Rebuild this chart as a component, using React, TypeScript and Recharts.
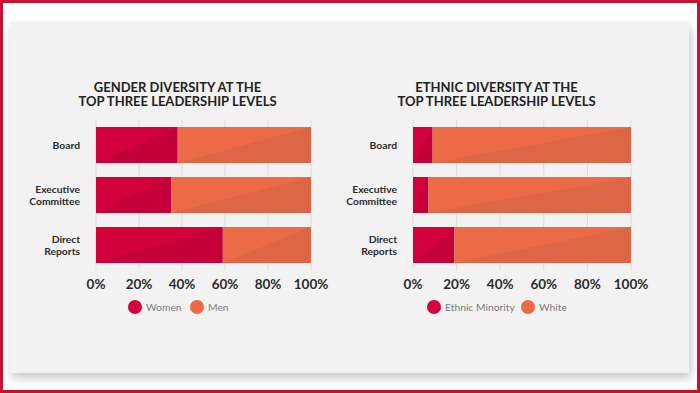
import React from 'react'
import { BarChart, Bar, XAxis, YAxis, CartesianGrid } from 'recharts'

const levels = ['Board', 'Executive Committee', 'Direct Reports']
const womenShare = [38, 35, 59]
const menShare = [62, 65, 41]
const minorityShare = [9, 7, 19]
const whiteShare = [91, 93, 81]
const percentTicks = [0, 20, 40, 60, 80, 100]

const genderData = levels.map((level, i) => ({ level, women: womenShare[i], men: menShare[i] }))
const ethnicData = levels.map((level, i) => ({ level, minority: minorityShare[i], white: whiteShare[i] }))

const CRIMSON = ['#d2003b', '#c3003a']
const ORANGE = ['#ec6b46', '#dc6646']

type Series = { key: string, name: string, colors: string[] }

const genderSeries: Series[] = [
  { key: 'women', name: 'Women', colors: CRIMSON },
  { key: 'men', name: 'Men', colors: ORANGE },
]
const ethnicSeries: Series[] = [
  { key: 'minority', name: 'Ethnic Minority', colors: CRIMSON },
  { key: 'white', name: 'White', colors: ORANGE },
]

const FONT = 'Lato, "Open Sans", sans-serif'

function LevelTick({ x, y, payload }: any) {
  const words = String(payload.value).split(' ')
  const lh = 11.7
  const start = -((words.length - 1) * lh) / 2
  return (
    <text x={x} y={y} textAnchor="end" fontFamily={FONT} fontSize={10.3} fontWeight={700} fill="#2b2b2b">
      {words.map((w, i) => (
        <tspan key={w} x={x} dy={i === 0 ? start + 3.7 : lh}>{w}</tspan>
      ))}
    </text>
  )
}

function DiversityChart({ id, title, data, series, left, marginLeft, marginRight, titleCenter, legendX }: {
  id: string, title: string[], data: any[], series: Series[], left: number,
  marginLeft: number, marginRight: number, titleCenter: number, legendX: number[]
}) {
  return (
    <div style={{ position: 'absolute', left, top: 0, width: 370, height: 330 }}>
      <div style={{
        position: 'absolute', left: titleCenter - 150, width: 300, top: 80, textAlign: 'center',
        fontFamily: FONT, fontWeight: 700, fontSize: 13, lineHeight: '14px', color: '#222',
      }}>
        {title.map(t => <div key={t}>{t}</div>)}
      </div>
      <BarChart width={370} height={300} data={data} layout="vertical"
        margin={{ top: 120, right: marginRight, bottom: 0, left: marginLeft }}>
        <defs>
          {series.map(s => (
            <linearGradient key={s.key} id={`${id}-${s.key}`} x1="0" y1="0" x2="1" y2="1">
              <stop offset="0" stopColor={s.colors[0]} />
              <stop offset="0.5" stopColor={s.colors[0]} />
              <stop offset="0.5" stopColor={s.colors[1]} />
              <stop offset="1" stopColor={s.colors[1]} />
            </linearGradient>
          ))}
        </defs>
        <CartesianGrid horizontal={false} stroke="#dcdcdc" />
        <XAxis type="number" domain={[0, 100]} ticks={percentTicks} interval={0}
          tickFormatter={v => `${v}%`} axisLine={false} tickLine={false} tickMargin={3}
          tick={{ fontFamily: FONT, fontSize: 13.5, fontWeight: 700, fill: '#2b2b2b' }} />
        <YAxis type="category" dataKey="level" width={60} axisLine={false} tickLine={false}
          tickMargin={10} tick={<LevelTick />} />
        {series.map(s => (
          <Bar key={s.key} dataKey={s.key} name={s.name} stackId="a" barSize={36}
            fill={`url(#${id}-${s.key})`} isAnimationActive={false} />
        ))}
      </BarChart>
      {series.map((s, i) => (
        <div key={s.key} style={{ position: 'absolute', left: legendX[i] - 7, top: 300, display: 'flex', alignItems: 'center' }}>
          <span style={{ width: 14, height: 14, borderRadius: 7, background: s.colors[0], display: 'inline-block' }} />
          <span style={{ marginLeft: 4, fontFamily: FONT, fontSize: 10.3, color: '#7a7a7a' }}>{s.name}</span>
        </div>
      ))}
    </div>
  )
}

export default function App() {
  return (
    <div style={{
      position: 'absolute', left: 0, top: 0, width: 700, height: 393, boxSizing: 'border-box',
      border: '3px solid #c41230', background: '#fff', overflow: 'hidden',
    }}>
      <div style={{
        position: 'absolute', left: 7, top: 19, width: 679, height: 351, background: '#f2f2f2',
        boxShadow: '2px 5px 9px rgba(0,0,0,0.22)',
      }} />
      <div style={{ position: 'absolute', left: -3, top: -3 }}>
        <DiversityChart id="gender" title={['GENDER DIVERSITY AT THE', 'TOP THREE LEADERSHIP LEVELS']}
          data={genderData} series={genderSeries} left={0} marginLeft={36} marginRight={59}
          titleCenter={177.5} legendX={[135, 197]} />
        <DiversityChart id="ethnic" title={['ETHNIC DIVERSITY AT THE', 'TOP THREE LEADERSHIP LEVELS']}
          data={ethnicData} series={ethnicSeries} left={330} marginLeft={23} marginRight={69}
          titleCenter={166.5} legendX={[104, 198]} />
      </div>
    </div>
  )
}
